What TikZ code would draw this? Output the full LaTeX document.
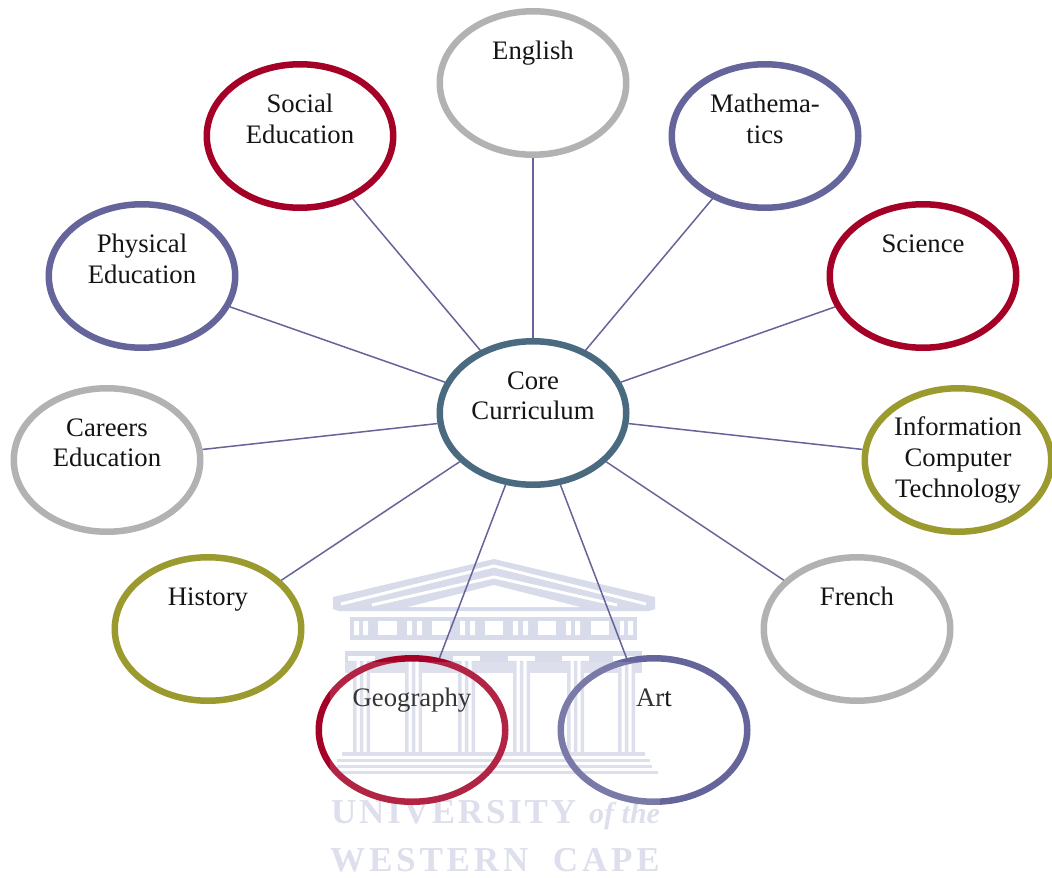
\documentclass[tikz,border=0pt]{standalone}
\usepackage{fontspec}
\setmainfont{Liberation Serif}
\newfontfamily\crestone[LetterSpace=8]{Liberation Serif}
\newfontfamily\cresttwo[LetterSpace=11]{Liberation Serif}
\usetikzlibrary{shapes.geometric}
\definecolor{ringred}{HTML}{A50026}
\definecolor{ringblue}{HTML}{65659B}
\definecolor{ringgrey}{HTML}{B2B2B2}
\definecolor{ringolive}{HTML}{9B9A2E}
\definecolor{ringteal}{HTML}{4A6A80}
\definecolor{spoke}{HTML}{66629A}
\definecolor{crest}{HTML}{D8DBE9}

\begin{document}
\begin{tikzpicture}[
    % One unit is one pixel of the reference, y goes down.
    x=1pt,
    y=-1pt
]
    % --- Style Definitions ---
    % The rules give every bubble text the same box, whatever its letters.
    \tikzstyle{bubble} = [draw, ellipse, line width=6.5pt, inner sep=0pt, minimum width=186.5pt, minimum height=143.5pt, align=center, font=\fontsize{26.7}{30.6}\selectfont, text=black!92, execute at begin node={\rule[-4.3pt]{0pt}{30.6pt}}, execute at end node={\rule[-4.3pt]{0pt}{30.6pt}}]
    \tikzstyle{connector} = [draw=spoke, line width=1.5pt]
    \tikzstyle{crestpart} = [fill=crest, draw=none]
    \tikzstyle{crestgap} = [fill=white, draw=none]
    \tikzstyle{crestword} = [inner sep=0pt, anchor=base west, text=crest]

    \useasboundingbox (0,0) rectangle (1052,878);

    % --- Watermark: Roof ---
    \fill[crestpart] (333,597) -- (494,559) -- (655,597) -- (655,609) -- (649,611) -- (339,611) -- (333,609) -- cycle;
    \draw[white, line width=3pt] (341,604) -- (494,566) -- (646,604);
    \draw[white, line width=3pt] (372,605) -- (494,577) -- (617,605);
    \fill[crestgap] (408,607) -- (494,585) -- (580,607) -- cycle;

    % --- Watermark: Frieze ---
    \fill[crestpart] (350,617) rectangle (637,640);
    \fill[crestpart] (345,651) rectangle (642,673);
    \fill[crestgap] (354,621) rectangle (359,635) (363,621) rectangle (368,635);
    \fill[crestgap] (378,621) rectangle (397,635);
    \fill[crestgap] (407,621) rectangle (412,635) (417,621) rectangle (422,635);
    \fill[crestgap] (432,621) rectangle (450,635);
    \fill[crestgap] (460,621) rectangle (465,635) (470,621) rectangle (475,635);
    \fill[crestgap] (485,621) rectangle (503,635);
    \fill[crestgap] (513,621) rectangle (518,635) (523,621) rectangle (528,635);
    \fill[crestgap] (538,621) rectangle (556,635);
    \fill[crestgap] (566,621) rectangle (571,635) (575,621) rectangle (580,635);
    \fill[crestgap] (591,621) rectangle (609,635);
    \fill[crestgap] (620,621) rectangle (624,635) (628,621) rectangle (633,635);

    % --- Watermark: Columns ---
    % The argument is the left edge of a column.
    \def\crestcolumn#1{
        \fill[crestgap] (#1-5,656) rectangle (#1+22,661);
        \fill[crestgap] (#1,661) rectangle (#1+17,673);
        \fill[crestpart] (#1,661) rectangle (#1+3.5,752) (#1+6.75,661) rectangle (#1+10.25,752) (#1+13.5,661) rectangle (#1+17,752);
    }
    \crestcolumn{353}
    \crestcolumn{405}
    \crestcolumn{458}
    \crestcolumn{513}
    \crestcolumn{567}
    \crestcolumn{618}

    % --- Watermark: Steps ---
    \fill[crestpart] (342,752) rectangle (645,756);
    \fill[crestpart] (337,759) rectangle (650,762);
    \fill[crestpart] (337,765) rectangle (652,768);
    \fill[crestpart] (337,771) rectangle (658,774);

    % --- Watermark: Words ---
    \node[crestword, font=\crestone\bfseries\fontsize{35}{35}\selectfont] (crestuniversity) at (331,823) {UNIVERSITY};
    \node[crestword, font=\bfseries\itshape\fontsize{30}{30}\selectfont] (crestofthe) at (589,823) {of the};
    \node[crestword, font=\cresttwo\bfseries\fontsize{35}{35}\selectfont] (crestcape) at (330,871) {WESTERN\hspace{12pt} CAPE};

    % --- Bubbles ---
    % Every bubble holds three lines, so short texts stay in its upper half.
    \node[bubble, draw=ringteal] (core) at (533,413) {Core\\Curriculum\\~};
    \node[bubble, draw=ringgrey] (english) at (533,83) {English\\~\\~};
    \node[bubble, draw=ringblue] (maths) at (765,136) {Mathema-\\tics\\~};
    \node[bubble, draw=ringred] (science) at (923,276) {Science\\~\\~};
    \node[bubble, draw=ringolive] (ict) at (958,460) {Information\\Computer\\Technology};
    \node[bubble, draw=ringgrey] (french) at (857,629) {French\\~\\~};
    \node[bubble, draw=ringblue] (art) at (654,730) {Art\\~\\~};
    \node[bubble, draw=ringred] (geography) at (412,730) {Geography\\~\\~};
    \node[bubble, draw=ringolive] (history) at (208,629) {History\\~\\~};
    \node[bubble, draw=ringgrey] (careers) at (107,460) {Careers\\Education\\~};
    \node[bubble, draw=ringblue] (physical) at (142,276) {Physical\\Education\\~};
    \node[bubble, draw=ringred] (social) at (300,136) {Social\\Education\\~};

    % --- Connectors ---
    \draw[connector] (core) -- (english);
    \draw[connector] (core) -- (maths);
    \draw[connector] (core) -- (science);
    \draw[connector] (core) -- (ict);
    \draw[connector] (core) -- (french);
    \draw[connector] (core) -- (art);
    \draw[connector] (core) -- (geography);
    \draw[connector] (core) -- (history);
    \draw[connector] (core) -- (careers);
    \draw[connector] (core) -- (physical);
    \draw[connector] (core) -- (social);

    % --- Watermark: Veil over the lower bubbles ---
    \fill[white, opacity=0.14] (330,662) rectangle (660,878);
\end{tikzpicture}
\end{document}
